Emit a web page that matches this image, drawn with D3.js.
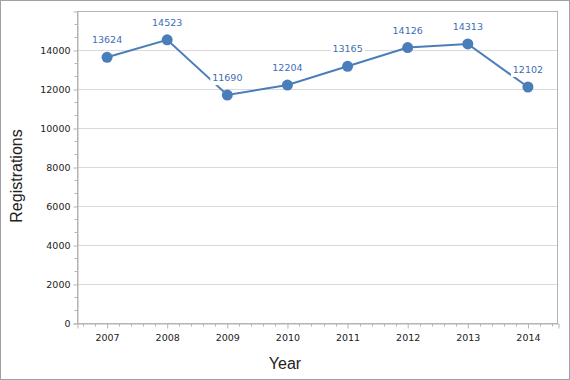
<!DOCTYPE html>
<html><head><meta charset="utf-8">
<script src="https://cdn.jsdelivr.net/npm/d3@7"></script>
<style>body{margin:0;background:#fff}svg{display:block}</style>
</head><body>
<script>
const years = ["2007","2008","2009","2010","2011","2012","2013","2014"];
const registrations = [13624,14523,11690,12204,13165,14126,14313,12102];
const yTicks = [0,2000,4000,6000,8000,10000,12000,14000];

const W=570,H=380;
const L=77,R=558,T=11,B=323;
const svg=d3.select("body").append("svg").attr("width",W).attr("height",H);
svg.append("rect").attr("x",0.5).attr("y",0.5).attr("width",W-1).attr("height",H-1)
  .attr("fill","#fff").attr("stroke","#a0a0a8");

const x=d3.scaleBand().domain(years).range([L,R]);
const y=d3.scaleLinear().domain([0,16000]).range([B,T]);
const cx=d=>x(d)+x.bandwidth()/2;

// grid
svg.append("g").selectAll("line").data(yTicks.slice(1)).join("line")
  .attr("x1",L).attr("x2",R).attr("y1",d=>Math.round(y(d))+0.5).attr("y2",d=>Math.round(y(d))+0.5)
  .attr("stroke","#d9d9d9");
// plot border
svg.append("rect").attr("x",L+0.5).attr("y",T+0.5).attr("width",R-L-1).attr("height",B-T)
  .attr("fill","none").attr("stroke","#b4b4b4");

const font="DejaVu Sans";
// y axis
const yAxis=d3.axisLeft(y).tickValues(yTicks).tickSize(4).tickPadding(3).tickFormat(d3.format("d"));
const gy=svg.append("g").attr("transform",`translate(${L+0.5},0.5)`).call(yAxis);
const yMinor=d3.range(0,16000,2000/3).filter((d,i)=>i%3!==0);
gy.selectAll(".minor").data(yMinor).join("line").attr("class","minor")
  .attr("x1",-3).attr("x2",0).attr("y1",d=>Math.round(y(d))).attr("y2",d=>Math.round(y(d))).attr("stroke","#b4b4b4");
// x axis
const xAxis=d3.axisBottom(x).tickSize(5).tickPadding(6);
const gx=svg.append("g").attr("transform",`translate(0.5,${B+0.5})`).call(xAxis);
const step=x.bandwidth()/5;
const xMinor=[];
years.forEach(yr=>{for(let k=0;k<5;k++){const p=x(yr)+step*k+step/2; if(k!==2) xMinor.push(p);} });
gx.selectAll(".minor").data(xMinor).join("line").attr("class","minor")
  .attr("x1",d=>Math.round(d)).attr("x2",d=>Math.round(d)).attr("y1",0).attr("y2",3).attr("stroke","#b4b4b4");
[gx,gy].forEach(g=>{
  g.select(".domain").attr("stroke","#b4b4b4");
  g.selectAll(".tick line").attr("stroke","#b4b4b4");
  g.selectAll("text").attr("font-family",font).attr("font-size","9.5px").attr("fill","#222");
});

// titles
svg.append("text").attr("x",285).attr("y",369).attr("text-anchor","middle")
  .attr("font-family","Liberation Sans").attr("font-size","16px").attr("fill","#222").text("Year");
svg.append("text").attr("transform","translate(22,176) rotate(-90)").attr("text-anchor","middle")
  .attr("font-family","Liberation Sans").attr("font-size","16px").attr("fill","#222").text("Registrations");

// line
const data=years.map((yr,i)=>({yr,v:registrations[i]}));
svg.append("path").datum(data).attr("fill","none").attr("stroke","#4a7ebb").attr("stroke-width",2)
  .attr("d",d3.line().x(d=>cx(d.yr)).y(d=>y(d.v)));
// labels with white background
const lg=svg.append("g").selectAll("g").data(data).join("g")
  .attr("transform",d=>`translate(${cx(d.yr)},${y(d.v)-14})`);
lg.append("rect").attr("x",-17).attr("y",-11).attr("width",34).attr("height",15).attr("fill","#fff");
lg.append("text").attr("text-anchor","middle").attr("font-family",font).attr("font-size","9.5px")
  .attr("fill","#3c6eb4").text(d=>d.v);
// markers
svg.append("g").selectAll("circle").data(data).join("circle")
  .attr("cx",d=>cx(d.yr)).attr("cy",d=>y(d.v)).attr("r",5.5).attr("fill","#4a7ebb");
</script>
</body></html>
